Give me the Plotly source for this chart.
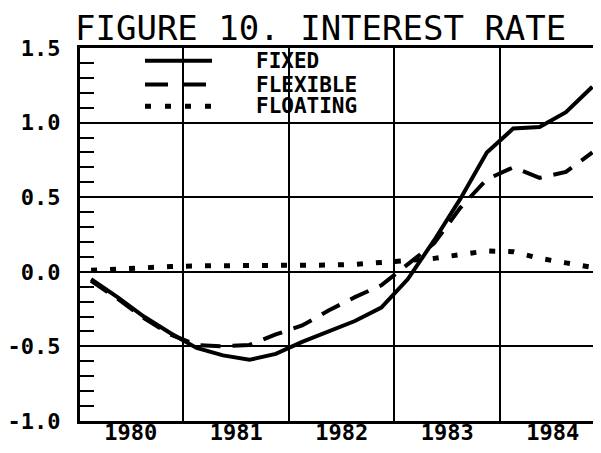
import plotly.graph_objects as go

# ---- data ----
years = [1980, 1981, 1982, 1983, 1984]
quarters = [1, 2, 3, 4]
year_labels = ["1980", "1981", "1982", "1983", "1984"]

fixed = [-0.05, -0.17, -0.30, -0.41, -0.51, -0.56, -0.59, -0.55,
         -0.47, -0.40, -0.33, -0.24, -0.05, 0.21, 0.49, 0.80,
         0.96, 0.97, 1.07, 1.24]
flexible = [-0.06, -0.18, -0.31, -0.42, -0.49, -0.50, -0.49, -0.42,
            -0.36, -0.26, -0.17, -0.09, 0.05, 0.19, 0.43, 0.62,
            0.70, 0.63, 0.67, 0.80]
floating = [0.01, 0.02, 0.03, 0.035, 0.04, 0.04, 0.04, 0.045,
            0.045, 0.045, 0.05, 0.06, 0.075, 0.09, 0.115, 0.14,
            0.135, 0.09, 0.06, 0.03]

series_names = ["FIXED", "FLEXIBLE", "FLOATING"]
y_ticks = [-1.0, -0.5, 0.0, 0.5, 1.0, 1.5]
y_tick_labels = ["-1.0", "-0.5", "0.0", "0.5", "1.0", "1.5"]
title_text = "FIGURE 10. INTEREST RATE"

# ---- styling ----
x = [yr + (q - 0.5) / 4 for yr in years for q in quarters]
series_values = [fixed, flexible, floating]
line_styles = [
    dict(color="black", width=4, dash="solid"),
    dict(color="black", width=4, dash="20px,12px"),
    dict(color="black", width=5, dash="6px,13px"),
]
legend_styles = [
    dict(color="black", width=4, dash="solid"),
    dict(color="black", width=4, dash="23px,15px"),
    dict(color="black", width=5, dash="6px,14px"),
]

# page has an 8px body margin, so the figure is sized to fit the window
OFF = 8
W, H = 601 - OFF, 453 - 2 * OFF
ML, MR, MT = 80 - OFF, 0, 48 - OFF
MB = H - (425 - OFF)
PW, PH = W - ML - MR, H - MT - MB

def px_to_paper_x(px):  # px in page pixels
    return (px - OFF - ML) / PW

def py_to_paper_y(py):  # py in page pixels
    return (H - MB - (py - OFF)) / PH

mono = "DejaVu Sans Mono"
tick_font = dict(family=mono, size=22, color="black", weight="bold")

fig = go.Figure()
for name, vals, st in zip(series_names, series_values, line_styles):
    fig.add_trace(go.Scatter(x=x, y=vals, mode="lines", name=name,
                             line=st, showlegend=False))

# legend drawn inside the plot like the original
legend_rows_py = [61, 85, 107]
shapes = []
annotations = []
for name, st, py in zip(series_names, legend_styles, legend_rows_py):
    shapes.append(dict(type="line", xref="paper", yref="paper",
                       x0=px_to_paper_x(145), x1=px_to_paper_x(212),
                       y0=py_to_paper_y(py), y1=py_to_paper_y(py),
                       line=st))
    annotations.append(dict(text=name, xref="paper", yref="paper",
                            x=px_to_paper_x(254), y=py_to_paper_y(py),
                            xanchor="left", yanchor="middle", showarrow=False,
                            font=dict(family=mono, size=21, color="black",
                                      weight="bold")))

annotations.append(dict(text=title_text, xref="paper", yref="paper",
                        x=px_to_paper_x(73), y=1, xanchor="left",
                        yanchor="bottom", showarrow=False, yshift=-2,
                        font=dict(family=mono, size=34, color="black")))

fig.update_layout(
    width=W, height=H,
    margin=dict(l=ML, r=MR, t=MT, b=MB, pad=0),
    paper_bgcolor="white", plot_bgcolor="white",
    shapes=shapes, annotations=annotations,
    xaxis=dict(
        range=[1980.02, 1984.957],
        tickvals=[yr + 0.5 for yr in years], ticktext=year_labels,
        showgrid=False, ticks="", zeroline=False,
        showline=True, mirror=True, linecolor="black", linewidth=3,
        tickfont=tick_font, ticklabelstandoff=-10,
        minor=dict(tick0=1981, dtick=1, showgrid=True, gridcolor="black",
                   gridwidth=2, ticks=""),
    ),
    yaxis=dict(
        range=[-1.0, 1.5],
        tickvals=y_ticks, ticktext=y_tick_labels,
        showgrid=True, gridcolor="black", gridwidth=2,
        ticks="inside", ticklen=14, tickwidth=2, tickcolor="black",
        zeroline=True, zerolinecolor="black", zerolinewidth=2,
        showline=True, mirror=False, linecolor="black", linewidth=3,
        tickfont=tick_font, ticklabelstandoff=12,
        minor=dict(tick0=0, dtick=0.1, ticks="inside", ticklen=14,
                   tickwidth=2, tickcolor="black", showgrid=False),
    ),
)

fig.write_html("out.html")
